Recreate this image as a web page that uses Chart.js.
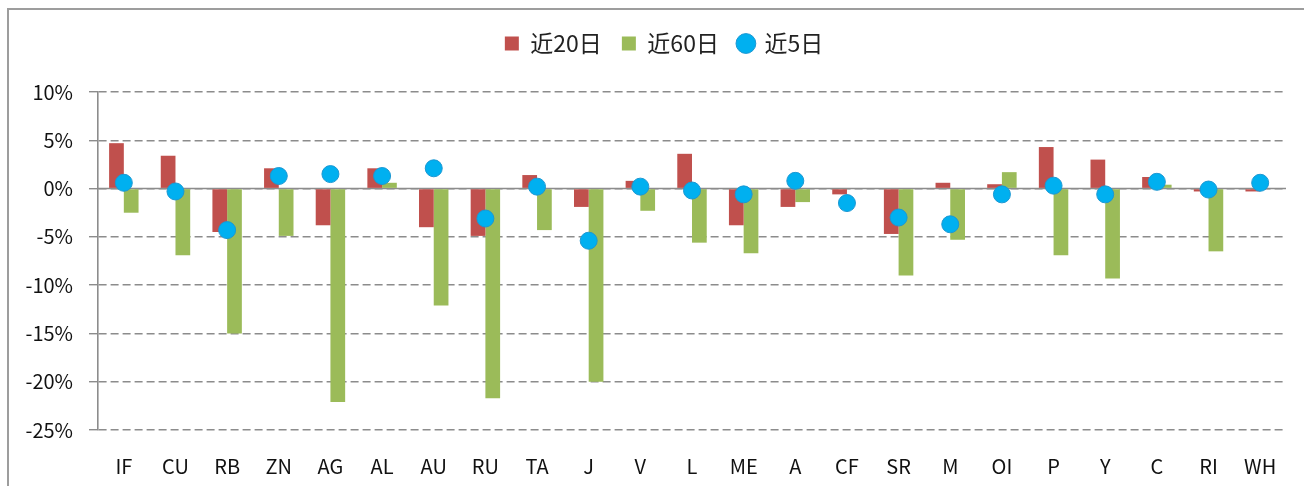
<!DOCTYPE html>
<html>
<head>
<meta charset="utf-8">
<script src="https://cdn.jsdelivr.net/npm/chart.js@4.4.1/dist/chart.umd.min.js"></script>
<style>
  html, body { margin: 0; padding: 0; background: #fff; overflow: hidden; }
  #wrap { position: relative; width: 1304px; height: 486px; }
  #frame { position: absolute; left: 7px; top: 8px; width: 1400px; height: 600px;
           border-left: 2px solid #9d9d9d; border-top: 2px solid #9d9d9d; }
  canvas { position: absolute; left: 0; top: 0; }
</style>
</head>
<body>
<div id="wrap">
  <div id="frame"></div>
  <canvas id="chart" width="1304" height="486"></canvas>
</div>
<script>
// ── Data ────────────────────────────────────────────────────────────
const categories = ['IF', 'CU', 'RB', 'ZN', 'AG', 'AL', 'AU', 'RU', 'TA', 'J', 'V', 'L',
                    'ME', 'A', 'CF', 'SR', 'M', 'OI', 'P', 'Y', 'C', 'RI', 'WH'];
const chg20 = [4.7, 3.4, -4.5, 2.1, -3.8, 2.1, -4.0, -4.9, 1.4, -1.9, 0.8, 3.6,
               -3.8, -1.9, -0.6, -4.7, 0.6, 0.45, 4.3, 3.0, 1.2, -0.3, -0.3];
const chg60 = [-2.5, -6.9, -15.0, -4.9, -22.1, 0.6, -12.1, -21.7, -4.3, -20.0, -2.3, -5.6,
               -6.7, -1.4, 0, -9.0, -5.3, 1.7, -6.9, -9.3, 0.4, -6.5, 0];
const chg5 = [0.6, -0.3, -4.3, 1.3, 1.5, 1.3, 2.1, -3.1, 0.2, -5.4, 0.2, -0.2,
              -0.6, 0.8, -1.5, -3.0, -3.7, -0.6, 0.3, -0.6, 0.7, -0.1, 0.6];
const seriesNames = ['近20日', '近60日', '近5日'];
const yTicks = { min: -25, max: 10, step: 5 };

const FONT = "'Noto Sans CJK SC', 'Noto Sans', sans-serif";
const GRID = '#8c8c8c';

// solid line at 0% (Excel category axis crossing)
const zeroLine = {
  id: 'zeroLine',
  beforeDatasetsDraw(chart) {
    const { ctx, chartArea } = chart;
    const y = chart.scales.y.getPixelForValue(0);
    ctx.save();
    ctx.strokeStyle = GRID;
    ctx.lineWidth = 1.6;
    ctx.beginPath();
    ctx.moveTo(chartArea.left, y);
    ctx.lineTo(chartArea.right, y);
    ctx.stroke();
    ctx.restore();
  }
};

// legend sits a bit right of centre in the original
const legendShift = {
  id: 'legendShift',
  afterLayout(chart) {
    if (chart.legend) { chart.legend.left += 21; chart.legend.right += 21; }
  }
};

new Chart(document.getElementById('chart'), {
  type: 'bar',
  data: {
    labels: categories,
    datasets: [
      { label: seriesNames[0], data: chg20, backgroundColor: '#C0504D', pointStyle: 'rect',
        categoryPercentage: 0.57, barPercentage: 1.0, order: 1 },
      { label: seriesNames[1], data: chg60, backgroundColor: '#9BBB59', pointStyle: 'rect',
        categoryPercentage: 0.57, barPercentage: 1.0, order: 1 },
      { type: 'line', label: seriesNames[2], data: chg5, showLine: false,
        backgroundColor: '#00B0F0', borderColor: '#1c97d2', borderWidth: 1,
        pointStyle: 'circle', pointRadius: 8.5, order: 0 }
    ]
  },
  options: {
    responsive: false,
    animation: false,
    layout: { padding: { top: 12, right: 18, left: 0, bottom: 0 } },
    plugins: {
      tooltip: { enabled: false },
      legend: {
        position: 'top',
        labels: {
          usePointStyle: true,
          boxWidth: 14, boxHeight: 14,
          padding: 20,
          color: '#222',
          font: { family: FONT, size: 23 },
          sort: (a, b) => a.datasetIndex - b.datasetIndex
        }
      }
    },
    scales: {
      xTop: {
        type: 'category', position: 'top',
        grid: { display: false, drawTicks: false }, border: { display: false },
        ticks: { display: false },
        afterFit(s) { s.height = 27; }
      },
      x: {
        grid: { display: false, drawTicks: false },
        border: { display: false },
        ticks: { color: '#111', padding: 24, font: { family: FONT, size: 20 }, maxRotation: 0, autoSkip: false },
        afterFit(s) { s.height = 56; }
      },
      y: {
        min: yTicks.min, max: yTicks.max,
        ticks: { stepSize: yTicks.step, color: '#111', padding: 16,
                 font: { family: FONT, size: 20 }, callback: v => v + '%' },
        grid: { color: GRID, lineWidth: 1.4, tickLength: 9, tickColor: GRID },
        border: { display: true, color: GRID, width: 1.6, dash: [8, 4] },
        afterFit(s) { s.width = 98; }
      }
    }
  },
  plugins: [zeroLine, legendShift]
});
</script>
</body>
</html>
